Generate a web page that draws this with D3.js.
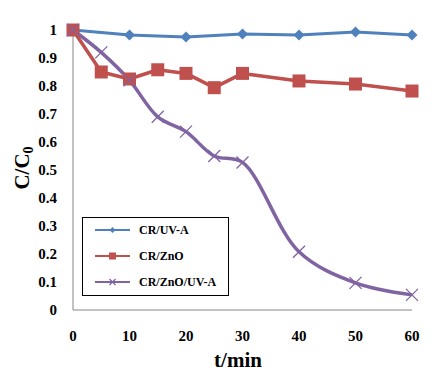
<!DOCTYPE html>
<html><head><meta charset="utf-8">
<script src="https://cdn.jsdelivr.net/npm/d3@7/dist/d3.min.js"></script>
<style>body{margin:0;background:#fff}svg{display:block}text{font-family:"Liberation Serif","Times New Roman",serif;font-weight:bold}</style>
</head><body>
<script>
const timesBlue = [0, 10, 20, 30, 40, 50, 60];
const crUvA = [1, 0.982, 0.975, 0.986, 0.982, 0.993, 0.982];
const timesRed = [0, 5, 10, 15, 20, 25, 30, 40, 50, 60];
const crZnO = [1, 0.85, 0.825, 0.858, 0.845, 0.794, 0.845, 0.818, 0.807, 0.782];
const timesPurple = [0, 5, 10, 15, 20, 25, 30, 40, 50, 60];
const crZnOUvA = [1, 0.92, 0.82, 0.69, 0.637, 0.55, 0.527, 0.208, 0.097, 0.054];
const xTicks = [0, 10, 20, 30, 40, 50, 60];
const yTicks = [0, 0.1, 0.2, 0.3, 0.4, 0.5, 0.6, 0.7, 0.8, 0.9, 1];
const seriesNames = ["CR/UV-A", "CR/ZnO", "CR/ZnO/UV-A"];

const W = 444, H = 382;
const svg = d3.select("body").append("svg").attr("width", W).attr("height", H);
const x = d3.scaleLinear().domain([0, 60]).range([73, 412]);
const y = d3.scaleLinear().domain([0, 1]).range([310, 30]);

// axes
svg.append("line").attr("x1", x(0)).attr("x2", x(0)).attr("y1", y(1)).attr("y2", y(0)).attr("stroke", "#868686").attr("stroke-width", 1);
svg.append("line").attr("x1", x(0)).attr("x2", x(60)).attr("y1", y(0)).attr("y2", y(0)).attr("stroke", "#868686").attr("stroke-width", 1);

svg.selectAll(".yt").data(yTicks).enter().append("text")
  .attr("x", 57).attr("y", d => y(d)).attr("dy", "0.35em").attr("text-anchor", "end")
  .attr("font-size", 15).text(d => d3.format("")(d));
svg.selectAll(".xt").data(xTicks).enter().append("text")
  .attr("x", d => x(d)).attr("y", 336).attr("dy", "0.35em").attr("text-anchor", "middle")
  .attr("font-size", 15).text(d => d);

svg.append("text").attr("x", 238).attr("y", 367).attr("text-anchor", "middle").attr("font-size", 21).text("t/min");
const yl = svg.append("text").attr("transform", "translate(29,168) rotate(-90)").attr("text-anchor", "middle").attr("font-size", 21);
yl.append("tspan").text("C/C");
yl.append("tspan").attr("font-size", 14).attr("dy", 4).text("0");

const colors = ["#4F81BD", "#C0504D", "#8064A2"];
const data = [
  timesBlue.map((t, i) => [t, crUvA[i]]),
  timesRed.map((t, i) => [t, crZnO[i]]),
  timesPurple.map((t, i) => [t, crZnOUvA[i]])
];

const lineStraight = d3.line().x(d => x(d[0])).y(d => y(d[1]));
const lineSmooth = d3.line().x(d => x(d[0])).y(d => y(d[1])).curve(d3.curveCatmullRom.alpha(0.5));

function marker(g, type, cx, cy, size) {
  if (type === 0) {
    const s = size / 2;
    g.append("path").attr("d", `M${cx},${cy - s}L${cx + s},${cy}L${cx},${cy + s}L${cx - s},${cy}Z`).attr("fill", colors[0]);
  } else if (type === 1) {
    g.append("rect").attr("x", cx - size / 2).attr("y", cy - size / 2).attr("width", size).attr("height", size).attr("fill", colors[1]);
  } else {
    const s = size / 2;
    g.append("path").attr("d", `M${cx - s},${cy - s}L${cx + s},${cy + s}M${cx - s},${cy + s}L${cx + s},${cy - s}`)
      .attr("stroke", colors[2]).attr("stroke-width", 1.3).attr("fill", "none");
  }
}

data.forEach((d, i) => {
  svg.append("path").attr("d", (i === 2 ? lineSmooth : lineStraight)(d))
    .attr("fill", "none").attr("stroke", colors[i]).attr("stroke-width", i === 0 ? 3 : 3.5).attr("stroke-linejoin", "round");
});
data.forEach((d, i) => {
  const g = svg.append("g");
  d.forEach(p => marker(g, i, x(p[0]), y(p[1]), i === 0 ? 11 : (i === 1 ? 13 : 12)));
});

// legend
svg.append("rect").attr("x", 82.5).attr("y", 217.5).attr("width", 146).attr("height", 78).attr("fill", "#fff").attr("stroke", "#000").attr("stroke-width", 1);
seriesNames.forEach((n, i) => {
  const ly = 230 + i * 26;
  svg.append("line").attr("x1", 95).attr("x2", 130).attr("y1", ly).attr("y2", ly).attr("stroke", colors[i]).attr("stroke-width", 2);
  const g = svg.append("g");
  marker(g, i, 112.5, ly, i === 0 ? 6 : (i === 1 ? 7 : 6));
  svg.append("text").attr("x", 139).attr("y", ly).attr("dy", "0.35em").attr("font-size", 12).text(n);
});
</script>
</body></html>
